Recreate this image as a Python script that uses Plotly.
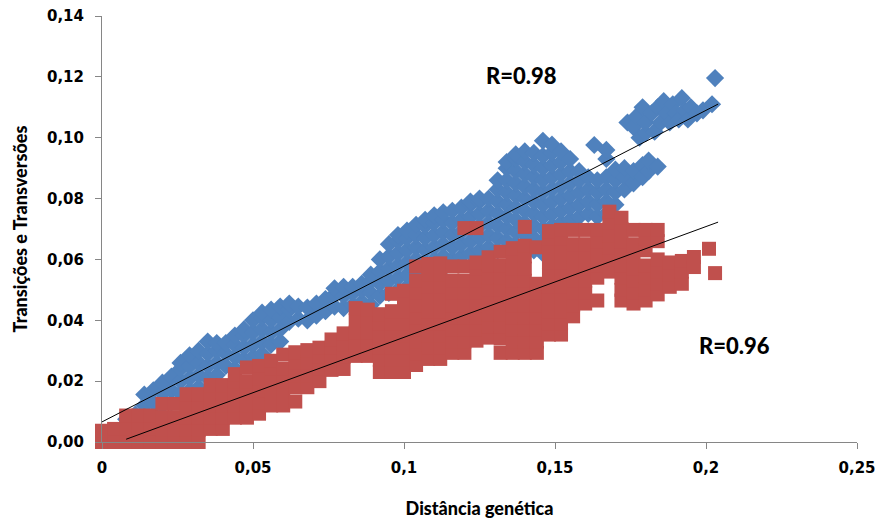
import plotly.graph_objects as go

# ---- data ----
# Transitions (blue diamonds): column x positions and the y values in each column
blue_col_x = [0.008, 0.011, 0.014, 0.017, 0.020, 0.023, 0.026, 0.029, 0.032, 0.035,
              0.038, 0.041, 0.044, 0.047, 0.050, 0.053, 0.056, 0.059, 0.062, 0.065,
              0.068, 0.071, 0.074, 0.077, 0.080, 0.083, 0.086, 0.089, 0.092, 0.095,
              0.098, 0.101, 0.104, 0.107, 0.110, 0.113, 0.116, 0.119, 0.122, 0.125,
              0.128, 0.131, 0.134, 0.137, 0.140, 0.143, 0.146, 0.149, 0.152, 0.155,
              0.158, 0.161, 0.163, 0.164, 0.167, 0.170, 0.173, 0.176, 0.179, 0.181,
              0.184]
blue_col_y = [
    [0.0075], [0.005, 0.009], [0.008, 0.012, 0.0156], [0.009, 0.013, 0.0170],
    [0.012, 0.016, 0.0195], [0.013, 0.017, 0.0215], [0.016, 0.020, 0.024, 0.026],
    [0.017, 0.021, 0.025, 0.0285], [0.018, 0.022, 0.026, 0.030], [0.021, 0.025, 0.029, 0.033],
    [0.022, 0.026, 0.030, 0.0325], [0.025, 0.029, 0.0325], [0.024, 0.028, 0.032, 0.035],
    [0.027, 0.031, 0.035, 0.037], [0.028, 0.032, 0.036, 0.040],
    [0.029, 0.033, 0.037, 0.041, 0.0425], [0.032, 0.036, 0.040, 0.0435],
    [0.033, 0.037, 0.041, 0.0445], [0.0395, 0.0435, 0.0455], [0.0405, 0.0445],
    [0.040, 0.0442], [0.0415, 0.0455], [0.043, 0.047], [0.0445, 0.0485, 0.0505],
    [0.044, 0.048, 0.051], [0.045, 0.049, 0.051], [0.046, 0.050, 0.052],
    [0.045, 0.049, 0.053, 0.055], [0.048, 0.052, 0.056, 0.060],
    [0.049, 0.053, 0.057, 0.061, 0.065], [0.050, 0.054, 0.058, 0.062, 0.066, 0.068],
    [0.051, 0.055, 0.059, 0.063, 0.067, 0.0695], [0.052, 0.056, 0.060, 0.064, 0.068, 0.0714],
    [0.055, 0.059, 0.063, 0.067, 0.071, 0.073], [0.056, 0.060, 0.064, 0.068, 0.072, 0.0745],
    [0.057, 0.061, 0.065, 0.069, 0.073, 0.0755], [0.060, 0.064, 0.068, 0.072, 0.076],
    [0.061, 0.065, 0.069, 0.073, 0.077], [0.062, 0.066, 0.070, 0.074, 0.078, 0.079],
    [0.063, 0.067, 0.071, 0.075, 0.079, 0.080], [0.064, 0.068, 0.072, 0.076, 0.080],
    [0.063, 0.067, 0.071, 0.075, 0.079, 0.083, 0.086],
    [0.066, 0.070, 0.074, 0.078, 0.082, 0.086, 0.090, 0.092],
    [0.065, 0.069, 0.073, 0.077, 0.081, 0.085, 0.089, 0.093, 0.0945],
    [0.064, 0.068, 0.072, 0.076, 0.080, 0.084, 0.088, 0.092, 0.0955],
    [0.063, 0.067, 0.071, 0.075, 0.079, 0.083, 0.087, 0.091, 0.095],
    [0.062, 0.066, 0.070, 0.074, 0.078, 0.082, 0.086, 0.090, 0.094, 0.099],
    [0.071, 0.075, 0.079, 0.083, 0.087, 0.091, 0.095, 0.0977],
    [0.072, 0.076, 0.080, 0.084, 0.088, 0.092, 0.0955],
    [0.073, 0.077, 0.081, 0.085, 0.089, 0.093],
    [0.074, 0.078, 0.082, 0.086, 0.089], [0.075, 0.079, 0.083, 0.087], [0.0976],
    [0.074, 0.078, 0.082, 0.086], [0.075, 0.079, 0.083, 0.087, 0.093, 0.096],
    [0.078, 0.082, 0.086, 0.0895], [0.083, 0.087, 0.090], [0.085, 0.089],
    [0.087, 0.091], [0.089, 0.0925], [0.0905]]
# upper-right cluster of blue points (x, y)
blue_top_x = [0.174, 0.176, 0.177, 0.178, 0.179, 0.180, 0.180, 0.182, 0.183, 0.184,
              0.185, 0.186, 0.187, 0.188, 0.189, 0.190, 0.191, 0.192, 0.193, 0.194,
              0.195, 0.197, 0.199, 0.202, 0.203]
blue_top_y = [0.105, 0.1035, 0.107, 0.100, 0.110, 0.1015, 0.105, 0.108, 0.102, 0.110,
              0.105, 0.112, 0.108, 0.105, 0.111, 0.108, 0.106, 0.113, 0.109, 0.106,
              0.110, 0.108, 0.109, 0.111, 0.1196]

# Transversions (red squares)
red_col_x = [0.000, 0.004, 0.008, 0.012, 0.016, 0.020, 0.024, 0.028, 0.032, 0.036,
             0.040, 0.044, 0.048, 0.052, 0.056, 0.060, 0.064, 0.068, 0.072, 0.076,
             0.080, 0.084, 0.088, 0.092, 0.096, 0.100, 0.104, 0.108, 0.112, 0.116,
             0.120, 0.124, 0.128, 0.132, 0.136, 0.140, 0.144, 0.148, 0.152, 0.156,
             0.160, 0.164, 0.168, 0.172, 0.176, 0.180, 0.184, 0.188, 0.192, 0.196,
             0.201, 0.203]
red_col_y = [
    [0.0, 0.0037], [0.0, 0.0043], [0.0, 0.0043, 0.0087], [0.0, 0.0043, 0.0087],
    [0.0, 0.0043, 0.0087], [0.0, 0.004, 0.008, 0.0125], [0.0, 0.004, 0.008, 0.0125],
    [0.0, 0.004, 0.008, 0.012, 0.0157], [0.0, 0.004, 0.008, 0.012, 0.0157],
    [0.0043, 0.008, 0.012, 0.016, 0.0187], [0.0043, 0.008, 0.012, 0.016, 0.0187],
    [0.008, 0.012, 0.016, 0.020, 0.0223], [0.008, 0.012, 0.016, 0.020, 0.0245],
    [0.0093, 0.013, 0.017, 0.021, 0.025], [0.012, 0.016, 0.020, 0.024, 0.0267],
    [0.012, 0.016, 0.020, 0.024, 0.0287], [0.0133, 0.018, 0.022, 0.026, 0.0295],
    [0.018, 0.022, 0.026, 0.0302], [0.020, 0.024, 0.028, 0.031],
    [0.0237, 0.027, 0.031, 0.0337], [0.024, 0.028, 0.032, 0.0357],
    [0.0283, 0.032, 0.036, 0.040, 0.044], [0.0283, 0.032, 0.036, 0.040, 0.0435],
    [0.023, 0.027, 0.031, 0.035, 0.039, 0.042],
    [0.023, 0.027, 0.031, 0.035, 0.039, 0.043, 0.0487],
    [0.023, 0.027, 0.031, 0.035, 0.039, 0.043, 0.047, 0.0497],
    [0.0253, 0.029, 0.033, 0.037, 0.041, 0.045, 0.049, 0.053, 0.0577],
    [0.0273, 0.031, 0.035, 0.039, 0.043, 0.047, 0.051, 0.055, 0.0585],
    [0.0273, 0.031, 0.035, 0.039, 0.043, 0.047, 0.051, 0.055, 0.0587],
    [0.0293, 0.033, 0.037, 0.041, 0.045, 0.049, 0.053, 0.0577],
    [0.0293, 0.033, 0.037, 0.041, 0.045, 0.049, 0.053, 0.0577, 0.0703],
    [0.0333, 0.037, 0.041, 0.045, 0.049, 0.053, 0.057, 0.059, 0.0703],
    [0.0343, 0.038, 0.042, 0.046, 0.050, 0.054, 0.058, 0.0607],
    [0.0293, 0.034, 0.038, 0.042, 0.046, 0.050, 0.054, 0.058, 0.0625],
    [0.0293, 0.033, 0.037, 0.041, 0.045, 0.049, 0.053, 0.057, 0.061, 0.0637],
    [0.0293, 0.033, 0.037, 0.041, 0.045, 0.049, 0.053, 0.057, 0.061, 0.0645, 0.0707],
    [0.0293, 0.033, 0.037, 0.041, 0.045, 0.049, 0.052, 0.064],
    [0.0353, 0.039, 0.043, 0.047, 0.051, 0.055, 0.059, 0.063, 0.067, 0.0693],
    [0.0353, 0.039, 0.043, 0.047, 0.051, 0.055, 0.059, 0.063, 0.067, 0.0697],
    [0.0413, 0.045, 0.049, 0.053, 0.057, 0.061, 0.065, 0.0697],
    [0.0455, 0.049, 0.053, 0.057, 0.061, 0.065, 0.0697],
    [0.0465, 0.054, 0.058, 0.062, 0.066, 0.0697],
    [0.056, 0.060, 0.064, 0.068, 0.072, 0.0757],
    [0.0465, 0.050, 0.054, 0.058, 0.062, 0.066, 0.070, 0.0737],
    [0.0455, 0.049, 0.053, 0.057, 0.061, 0.065, 0.0697],
    [0.0465, 0.050, 0.054, 0.058, 0.063, 0.067, 0.0697],
    [0.0485, 0.052, 0.056, 0.060, 0.066, 0.0697],
    [0.051, 0.055, 0.059], [0.052, 0.056, 0.0595], [0.0575, 0.0608],
    [0.0635], [0.0555]]

# linear trend lines: slope, intercept, x extent
blue_trend = {"slope": 0.512, "intercept": 0.0066, "x": [0.0, 0.204]}
red_trend = {"slope": 0.364, "intercept": -0.002, "x": [0.008, 0.204]}

r_labels = ["R=0.98", "R=0.96"]
r_label_x = [0.139, 0.2096]
r_label_y = [0.1205, 0.0318]

x_tickvals = [0, 0.05, 0.1, 0.15, 0.2, 0.25]
x_ticktext = ["0", "0,05", "0,1", "0,15", "0,2", "0,25"]
y_tickvals = [0, 0.02, 0.04, 0.06, 0.08, 0.10, 0.12, 0.14]


def expand(col_x, col_y):
    xs, ys = [], []
    for x, col in zip(col_x, col_y):
        for y in col:
            xs.append(x)
            ys.append(y)
    return xs, ys


bx, by = expand(blue_col_x, blue_col_y)
bx += blue_top_x
by += blue_top_y
rx, ry = expand(red_col_x, red_col_y)

fig = go.Figure()
fig.add_trace(go.Scatter(x=bx, y=by, mode="markers", cliponaxis=False,
                         marker=dict(symbol="diamond", size=14, color="#4F81BD",
                                     line=dict(width=0)),
                         showlegend=False))
fig.add_trace(go.Scatter(x=rx, y=ry, mode="markers", cliponaxis=False,
                         marker=dict(symbol="square", size=14, color="#C0504D",
                                     line=dict(width=0)),
                         showlegend=False))
for tr in (blue_trend, red_trend):
    fig.add_trace(go.Scatter(x=tr["x"], y=[tr["intercept"] + tr["slope"] * v for v in tr["x"]],
                             mode="lines", line=dict(color="#000000", width=1),
                             showlegend=False, cliponaxis=False))

for t, xx, yy in zip(r_labels, r_label_x, r_label_y):
    fig.add_annotation(x=xx, y=yy, xref="x", yref="y", text=t, showarrow=False,
                       font=dict(family="Lato", size=22, color="#000000", weight=900))

tickfont = dict(family="DejaVu Sans", size=15, color="#000000", weight="bold")
titlefont = dict(family="Lato", size=18, color="#000000", weight=900)

fig.update_layout(
    width=877, height=526,
    margin=dict(l=102, r=20, t=16, b=84, autoexpand=False),
    paper_bgcolor="white", plot_bgcolor="white",
    separators=",.",
    xaxis=dict(range=[0, 0.25], tickvals=x_tickvals, ticktext=x_ticktext,
               showgrid=False, zeroline=False, showline=True, linecolor="#868686",
               linewidth=1, ticks="outside", ticklen=6, tickcolor="#868686",
               tickfont=tickfont, ticklabelstandoff=6, automargin=False,
               title=dict(text="Distância genética", font=titlefont, standoff=26)),
    yaxis=dict(range=[0, 0.14], tickvals=y_tickvals, tickformat=".2f",
               showgrid=False, zeroline=False, showline=True, linecolor="#868686",
               linewidth=1, ticks="outside", ticklen=6, tickcolor="#868686",
               tickfont=tickfont, ticklabelstandoff=8, automargin=False,
               title=dict(text="Transições e Transversões", font=titlefont, standoff=14)),
)

fig.write_html("out.html")
